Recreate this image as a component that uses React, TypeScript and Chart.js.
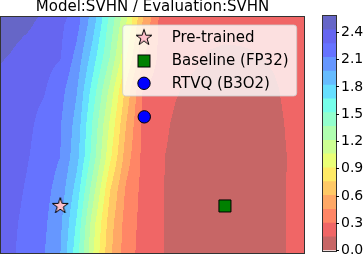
import React, { useEffect, useRef } from 'react';
import { Chart, registerables } from 'chart.js';

Chart.register(...registerables);

// ---------------- data ----------------
const TITLE = 'Model:SVHN / Evaluation:SVHN';

// grid of the loss surface (x along columns, y along rows, top row first)
const GRID_X = [-0.4, -0.3, -0.2, -0.1, 0, 0.1, 0.2, 0.3, 0.4, 0.5, 0.6, 0.7, 0.8, 0.9, 1.0, 1.1, 1.2, 1.3, 1.4, 1.5];
const GRID_Y = [1.3, 1.1, 0.9, 0.7, 0.5, 0.3, 0.1, -0.1, -0.3];

const LOSS_Y_P130 = [2.56, 2.54, 2.51, 2.47, 2.44, 2.231, 1.973, 1.594, 1.189, 0.721, 0.346, 0.26, 0.23, 0.21, 0.2, 0.2, 0.205, 0.21, 0.225, 0.245];
const LOSS_Y_P110 = [2.52, 2.48, 2.45, 2.392, 2.311, 2.177, 1.872, 1.464, 1.063, 0.596, 0.285, 0.245, 0.215, 0.195, 0.185, 0.185, 0.19, 0.2, 0.215, 0.235];
const LOSS_Y_P090 = [2.45, 2.42, 2.368, 2.326, 2.285, 2.074, 1.74, 1.366, 0.926, 0.478, 0.278, 0.228, 0.178, 0.14, 0.13, 0.135, 0.145, 0.165, 0.19, 0.22];
const LOSS_Y_P070 = [2.41, 2.37, 2.33, 2.29, 2.181, 1.981, 1.594, 1.176, 0.708, 0.302, 0.232, 0.163, 0.125, 0.105, 0.1, 0.105, 0.115, 0.14, 0.18, 0.21];
const LOSS_Y_P050 = [2.4, 2.35, 2.31, 2.229, 2.136, 1.919, 1.49, 1.048, 0.607, 0.279, 0.197, 0.13, 0.1, 0.09, 0.085, 0.09, 0.1, 0.125, 0.17, 0.2];
const LOSS_Y_P030 = [2.42, 2.368, 2.287, 2.206, 2.125, 1.875, 1.442, 0.957, 0.531, 0.268, 0.17, 0.118, 0.095, 0.085, 0.08, 0.085, 0.095, 0.12, 0.162, 0.19];
const LOSS_Y_P010 = [2.41, 2.337, 2.258, 2.18, 2.062, 1.758, 1.275, 0.774, 0.429, 0.264, 0.169, 0.115, 0.09, 0.08, 0.075, 0.08, 0.09, 0.12, 0.165, 0.19];
const LOSS_Y_M010 = [2.39, 2.31, 2.234, 2.156, 2.008, 1.651, 1.123, 0.683, 0.39, 0.258, 0.168, 0.115, 0.095, 0.085, 0.08, 0.085, 0.095, 0.12, 0.165, 0.19];
const LOSS_Y_M030 = [2.37, 2.3, 2.216, 2.133, 1.973, 1.575, 1.063, 0.64, 0.368, 0.251, 0.167, 0.115, 0.1, 0.09, 0.085, 0.09, 0.1, 0.12, 0.165, 0.19];

const LOSS_GRID = [LOSS_Y_P130, LOSS_Y_P110, LOSS_Y_P090, LOSS_Y_P070, LOSS_Y_P050, LOSS_Y_P030, LOSS_Y_P010, LOSS_Y_M010, LOSS_Y_M030];

// contour levels and colorbar ticks
const LEVELS = [0, 0.152, 0.304, 0.455, 0.607, 0.759, 0.911, 1.063, 1.214, 1.366, 1.518, 1.67, 1.821, 1.973, 2.125, 2.277, 2.429, 2.58];
const CBAR_TICKS = [0, 0.3, 0.6, 0.9, 1.2, 1.5, 1.8, 2.1, 2.4];

// marked models
const PRETRAINED = [{ x: 0, y: 0 }];
const BASELINE = [{ x: 1, y: 0 }];
const RTVQ = [{ x: 0.51, y: 0.54 }];

const X_RANGE = [-0.36, 1.48];
const Y_RANGE = [-0.285, 1.145];

// ---------------- styles ----------------
const FONT = 'DejaVu Sans';
const ALPHA = 0.6;

function jet(t: number): [number, number, number] {
  const seg = (pts: number[][]) => {
    for (let i = 0; i < pts.length - 1; i++) {
      const [x0, y0] = pts[i];
      const [x1, y1] = pts[i + 1];
      if (t >= x0 && t <= x1) return y0 + ((y1 - y0) * (t - x0)) / (x1 - x0);
    }
    return pts[pts.length - 1][1];
  };
  const r = seg([[0, 0], [0.35, 0], [0.66, 1], [0.89, 1], [1, 0.5]]);
  const g = seg([[0, 0], [0.125, 0], [0.375, 1], [0.64, 1], [0.91, 0], [1, 0]]);
  const b = seg([[0, 0.5], [0.11, 1], [0.34, 1], [0.65, 0], [1, 0]]);
  return [r, g, b];
}

const NB = LEVELS.length - 1;
const BAND_RGB: [number, number, number][] = [];
for (let k = 0; k < NB; k++) {
  const mid = (LEVELS[k] + LEVELS[k + 1]) / 2;
  const t = 1 - (mid - LEVELS[0]) / (LEVELS[NB] - LEVELS[0]); // reversed jet
  const [r, g, b] = jet(t);
  BAND_RGB.push([
    Math.round((r * ALPHA + (1 - ALPHA)) * 255),
    Math.round((g * ALPHA + (1 - ALPHA)) * 255),
    Math.round((b * ALPHA + (1 - ALPHA)) * 255),
  ]);
}
const BAND_CSS = BAND_RGB.map(([r, g, b]) => `rgb(${r},${g},${b})`);

function bandOf(v: number) {
  for (let k = NB - 1; k >= 0; k--) if (v >= LEVELS[k]) return k;
  return 0;
}

function sampleLoss(x: number, y: number) {
  let i = 0;
  while (i < GRID_X.length - 2 && x > GRID_X[i + 1]) i++;
  let j = 0;
  while (j < GRID_Y.length - 2 && y < GRID_Y[j + 1]) j++;
  const tx = (x - GRID_X[i]) / (GRID_X[i + 1] - GRID_X[i]);
  const ty = (y - GRID_Y[j]) / (GRID_Y[j + 1] - GRID_Y[j]);
  const a = LOSS_GRID[j][i], b = LOSS_GRID[j][i + 1];
  const c = LOSS_GRID[j + 1][i], d = LOSS_GRID[j + 1][i + 1];
  const top = a + (b - a) * tx;
  const bot = c + (d - c) * tx;
  return top + (bot - top) * ty;
}

function makeStar(): HTMLCanvasElement {
  const c = document.createElement('canvas');
  c.width = 22;
  c.height = 22;
  const g = c.getContext('2d')!;
  const R = 8.4, r = R * 0.381966;
  g.beginPath();
  for (let i = 0; i < 10; i++) {
    const ang = -Math.PI / 2 + (i * Math.PI) / 5;
    const rad = i % 2 === 0 ? R : r;
    const px = 11 + rad * Math.cos(ang), py = 11 + rad * Math.sin(ang);
    if (i === 0) g.moveTo(px, py); else g.lineTo(px, py);
  }
  g.closePath();
  g.fillStyle = '#ffc0cb';
  g.fill();
  g.lineWidth = 1;
  g.strokeStyle = '#000';
  g.stroke();
  return c;
}

const contourPlugin = {
  id: 'contourFill',
  beforeDatasetsDraw(chart: any) {
    const { ctx, chartArea: a, scales } = chart;
    const xs = scales.x, ys = scales.y;
    const L = Math.round(a.left), T = Math.round(a.top);
    const w = Math.round(a.right) - L, h = Math.round(a.bottom) - T;
    const img = ctx.createImageData(w, h);
    for (let py = 0; py < h; py++) {
      const yv = ys.getValueForPixel(T + py + 0.5);
      for (let px = 0; px < w; px++) {
        const xv = xs.getValueForPixel(L + px + 0.5);
        const [r, g, b] = BAND_RGB[bandOf(sampleLoss(xv, yv))];
        const o = (py * w + px) * 4;
        img.data[o] = r;
        img.data[o + 1] = g;
        img.data[o + 2] = b;
        img.data[o + 3] = 255;
      }
    }
    ctx.putImageData(img, L, T);
    ctx.save();
    ctx.strokeStyle = 'rgba(0,0,0,0.8)';
    ctx.lineWidth = 1;
    ctx.strokeRect(L - 0.5, T - 0.5, w + 1, h + 1);
    ctx.restore();
  },
};

function makeLegendPlugin(star: HTMLCanvasElement) {
  return {
    id: 'boxLegend',
    afterDatasetsDraw(chart: any) {
      const { ctx, chartArea: a } = chart;
      const bw = 174, bh = 71;
      const bx = a.right - 7.3 - bw, by = a.top + 8;
      ctx.save();
      ctx.beginPath();
      ctx.roundRect(bx, by, bw, bh, 3);
      ctx.fillStyle = 'rgba(255,255,255,0.8)';
      ctx.fill();
      ctx.strokeStyle = 'rgba(204,204,204,0.8)';
      ctx.lineWidth = 1;
      ctx.stroke();
      const mx = bx + 21.3;
      const rows = [by + 12.7, by + 36, by + 58.3];
      chart.data.datasets.forEach((ds: any, i: number) => {
        const y = rows[i];
        if (i === 0) {
          ctx.drawImage(star, mx - star.width / 2, y - star.height / 2);
        } else if (i === 1) {
          ctx.fillStyle = ds.backgroundColor;
          ctx.fillRect(mx - 6, y - 6, 12, 12);
          ctx.strokeStyle = '#000';
          ctx.strokeRect(mx - 6, y - 6, 12, 12);
        } else {
          ctx.beginPath();
          ctx.arc(mx, y, 6.2, 0, Math.PI * 2);
          ctx.fillStyle = ds.backgroundColor;
          ctx.fill();
          ctx.strokeStyle = '#000';
          ctx.stroke();
        }
        ctx.fillStyle = '#000';
        ctx.font = `15px "${FONT}"`;
        ctx.textBaseline = 'middle';
        ctx.textAlign = 'left';
        ctx.fillText(ds.label, bx + 49, y + 0.5);
      });
      ctx.restore();
    },
  };
}

const cbarOutline = {
  id: 'cbarOutline',
  afterDatasetsDraw(chart: any) {
    const { ctx, chartArea: a } = chart;
    ctx.save();
    ctx.strokeStyle = 'rgba(0,0,0,0.8)';
    ctx.lineWidth = 1;
    ctx.strokeRect(Math.round(a.left) - 0.5, Math.round(a.top) - 0.5, Math.round(a.right - a.left) + 1, Math.round(a.bottom - a.top) + 1);
    ctx.restore();
  },
};

export default function App() {
  const mainRef = useRef<HTMLCanvasElement>(null);
  const cbarRef = useRef<HTMLCanvasElement>(null);

  useEffect(() => {
    const star = makeStar();
    const main = new Chart(mainRef.current!, {
      type: 'scatter',
      data: {
        datasets: [
          { label: 'Pre-trained', data: PRETRAINED, pointStyle: star as any, pointRadius: 9, backgroundColor: '#ffc0cb', borderColor: '#000' },
          { label: 'Baseline (FP32)', data: BASELINE, pointStyle: 'rect', pointRadius: 8.5, backgroundColor: '#008000', borderColor: '#000', borderWidth: 1 },
          { label: 'RTVQ (B3O2)', data: RTVQ, pointStyle: 'circle', pointRadius: 6.2, backgroundColor: '#0000ff', borderColor: '#000', borderWidth: 1 },
        ],
      },
      options: {
        animation: false,
        responsive: false,
        events: [],
        layout: { autoPadding: false, padding: { left: 1, right: 14, top: 0, bottom: 8 } },
        plugins: {
          legend: { display: false },
          tooltip: { enabled: false },
          title: {
            display: true,
            text: TITLE,
            color: '#000',
            fullSize: false,
            font: { family: FONT, size: 15, weight: 'normal', lineHeight: 1 },
            padding: { top: 0, bottom: 2 },
          },
        },
        scales: {
          x: { type: 'linear', min: X_RANGE[0], max: X_RANGE[1], display: false },
          y: { type: 'linear', min: Y_RANGE[0], max: Y_RANGE[1], display: false },
        },
      },
      plugins: [contourPlugin, makeLegendPlugin(star)],
    } as any);

    const cbar = new Chart(cbarRef.current!, {
      type: 'bar',
      data: {
        labels: [''],
        datasets: BAND_CSS.map((col, k) => ({
          label: `band${k}`,
          data: [[LEVELS[k], LEVELS[k + 1]]],
          backgroundColor: col,
          borderWidth: 0,
          barPercentage: 1,
          categoryPercentage: 1,
          grouped: false,
        })),
      },
      options: {
        animation: false,
        responsive: false,
        events: [],
        layout: { autoPadding: false, padding: { left: 5, right: 0, top: 16, bottom: 8 } },
        plugins: { legend: { display: false }, tooltip: { enabled: false } },
        scales: {
          x: { type: 'category', display: false },
          y: {
            type: 'linear',
            position: 'right',
            min: LEVELS[0],
            max: LEVELS[LEVELS.length - 1],
            afterBuildTicks: (s: any) => {
              s.ticks = CBAR_TICKS.map((v) => ({ value: v }));
            },
            afterFit: (s: any) => {
              s.width = 27;
            },
            ticks: {
              color: '#000',
              padding: 2,
              font: { family: FONT, size: 14 },
              callback: (v: any) => Number(v).toFixed(1),
            },
            grid: { drawOnChartArea: false, tickLength: 3, tickColor: '#000', tickWidth: 1 },
            border: { display: false },
          },
        },
      },
      plugins: [cbarOutline],
    } as any);

    return () => {
      main.destroy();
      cbar.destroy();
    };
  }, []);

  return (
    <div style={{ position: 'absolute', left: 0, top: 0, width: 363, height: 261, background: '#fff' }}>
      <canvas ref={mainRef} width={318} height={261} style={{ position: 'absolute', left: 0, top: 0, width: 318, height: 261 }} />
      <canvas ref={cbarRef} width={45} height={261} style={{ position: 'absolute', left: 318, top: 0, width: 45, height: 261 }} />
    </div>
  );
}
